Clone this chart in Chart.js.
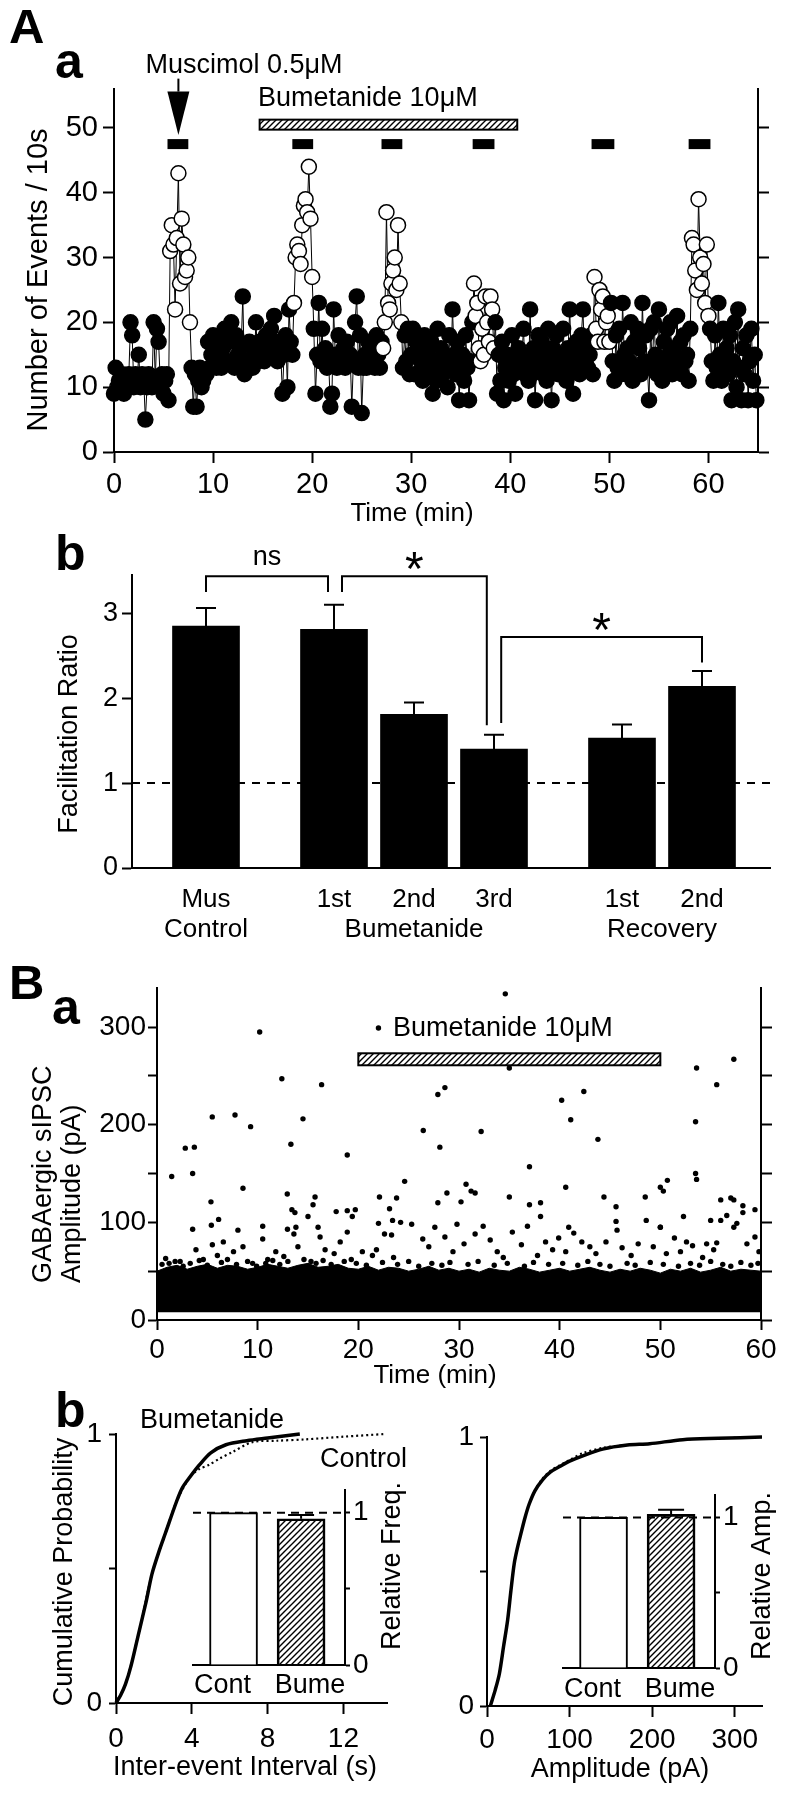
<!DOCTYPE html>
<html lang="en">
<head>
<meta charset="UTF-8">
<title>Muscimol facilitation and bumetanide</title>
<script src="https://cdn.jsdelivr.net/npm/chart.js"></script>
<style>
  body { margin: 0; background: #fff; }
  #page { position: relative; width: 786px; height: 1800px; overflow: hidden; font-family: 'Liberation Sans', Arial, sans-serif; }
  canvas { position: absolute; }
  .lbl { position: absolute; font-weight: bold; line-height: 1; color: #000; }
</style>
</head>
<body>
<div id="page">
  <div class="lbl" style="left:9px;top:2px;font-size:49px">A</div>
  <div class="lbl" style="left:55px;top:36px;font-size:50px">a</div>
  <div class="lbl" style="left:55px;top:528px;font-size:50px">b</div>
  <div class="lbl" style="left:9px;top:958px;font-size:49px">B</div>
  <div class="lbl" style="left:52px;top:982px;font-size:50px">a</div>
  <div class="lbl" style="left:55px;top:1385px;font-size:50px">b</div>

  <canvas id="aa" width="786" height="540" style="left:0;top:0"></canvas>
  <canvas id="ab" width="786" height="430" style="left:0;top:520px"></canvas>
  <canvas id="ba" width="786" height="430" style="left:0;top:965px"></canvas>
  <canvas id="bl" width="430" height="420" style="left:0;top:1380px"></canvas>
  <canvas id="br" width="396" height="420" style="left:390px;top:1380px"></canvas>
  <canvas id="il" width="270" height="240" style="left:150px;top:1470px"></canvas>
  <canvas id="ir" width="266" height="240" style="left:520px;top:1475px"></canvas>
</div>

<script>
// ---------------- A a : events per 10 s bin ----------------
const binMin = 1 / 6; // 10-s bins, one row per minute
const eventCounts = [
  9,13,10,11,10,12,  9,11,10,12,20,18,  10,12,11,15,10,12, 11,5,10,12,11,10,  20,11,19,17,11,12,
  9,11,12,8,31,35,   32,22,33,43,26,36, 32,27,28,30,20,13, 7,12,7,11,13,10,   11,12,12,17,13,15,
  18,14,13,17,15,13, 16,19,14,14,17,20, 14,13,18,15,14,16, 24,12,14,13,17,14, 13,15,20,14,17,15,
  16,14,18,15,15,19, 15,21,17,14,16,15, 9,15,18,10,22,17,  15,23,30,32,31,29, 35,38,39,37,44,36,
  27,19,9,15,23,14,  19,14,16,13,14,7,  9,22,15,13,18,14,  14,16,13,17,14,15, 7,14,20,24,13,18,
  6,13,15,13,17,14,  16,14,13,18,15,13, 17,16,20,37,23,22, 26,28,30,25,35,26, 20,13,18,14,19,12,
  15,19,12,17,12,16, 14,11,18,13,15,12, 17,9,14,11,19,13,  16,12,15,14,10,18, 13,22,15,12,17,8,
  14,15,11,18,13,8,  14,20,26,21,23,16, 14,19,15,24,20,17, 24,22,16,20,9,15,  11,17,8,13,15,11,
  14,18,12,9,14,16,  13,15,19,12,14,11, 22,12,16,8,14,18,  14,17,12,15,11,19, 13,8,16,14,18,12,
  15,12,19,14,11,16, 22,13,9,15,17,14,  12,18,22,14,16,13, 15,18,12,27,19,17, 25,22,24,17,20,21,
  17,23,14,11,18,13, 19,12,23,15,12,16, 14,20,11,17,13,19, 16,12,23,14,18,13, 8,19,13,20,15,12,
  22,14,11,17,13,19, 15,20,12,16,14,21, 13,17,12,18,14,15, 11,19,33,32,28,25, 39,30,26,29,23,32,
  21,19,14,11,18,13, 23,15,11,19,14,16, 12,18,8,14,20,10,  22,13,8,16,12,18,  8,14,19,11,15,8
];
// bins counted during the muscimol responses (open circles), minutes
const muscimolResponse = [[5.6, 7.7], [18.1, 20.05], [27.1, 29.05], [36.3, 38.4], [48.45, 50.05], [58.3, 60.05]];
// muscimol application periods (black bars) and bumetanide perfusion, minutes
const muscimolApplied = [[5.4, 7.5], [18.0, 20.1], [27.0, 29.1], [36.2, 38.4], [48.2, 50.5], [58.0, 60.2]];
const bumetanideA = [14.7, 40.7];

// ---------------- A b : facilitation ratio ----------------
const abLabels = ['Mus', '1st', '2nd', '3rd', '1st', '2nd'];
const abMeans = [2.85, 2.81, 1.81, 1.40, 1.53, 2.14];
const abSem = [0.21, 0.29, 0.14, 0.17, 0.16, 0.18];

// ---------------- B a : sIPSC amplitudes ----------------
const bandT = [0,1,2,3,4,5,6,7,8,9,10,11,12,13,14,15,16,17,18,19,20,21,22,23,24,25,26,27,28,29,30,
               31,32,33,34,35,36,37,38,39,40,41,42,43,44,45,46,47,48,49,50,51,52,53,54,55,56,57,58,59,60];
const bandTop = [50,54,56,52,55,57,53,56,55,52,54,57,55,53,56,58,54,55,57,53,52,55,51,54,53,50,52,55,51,53,50,
                 52,49,53,51,50,54,52,49,51,53,50,52,54,51,49,52,50,53,51,48,52,50,53,49,51,54,50,52,51,50];
const bandFloor = 8;
const baEvents = [
  [0.86,63],[1.46,147],[2.81,176],[3.71,177],[3.54,150],[3.54,93],[3.87,72],[5.36,121],[5.49,208],[5.4,97],
  [5.5,77],[6.12,103],[6.59,80],[7.75,210],[8.04,92],[8.54,135],[8.54,75],[9.3,198],[10.2,295],[10.5,96],
  [10.5,83],[12.4,247],[12.94,129],[13.3,180],[12.96,93],[13.4,113],[13.7,110],[13.8,95],[14.5,206],[15.0,106],
  [15.5,118],[15.7,126],[16.35,241],[16.0,95],[16.2,85],[17.8,111],[18.9,169],[18.9,112],[19.7,113],[19.4,106],
  [18.9,90],[22.0,299],[22.1,126],[23.8,125],[23.1,114],[23.4,102],[22.0,99],[26.45,194],[27.9,231],[28.6,238],
  [28.1,177],[24.6,142],[30.7,139],[31.2,132],[31.6,130],[28.8,130],[27.9,120],[30.2,121],[32.2,193],[34.6,334],
  [35.0,258],[35.0,126],[37.0,157],[37.0,118],[38.1,120],[38.1,106],[40.2,225],[41.1,205],[42.4,234],[43.8,185],
  [40.6,136],[44.4,126],[45.6,116],[40.9,95],[45.7,92],[48.5,126],[50.7,143],[50.0,136],[50.3,132],[50.0,95],
  [52.3,106],[53.6,258],[53.5,203],[53.6,144],[53.5,150],[55.6,241],[57.3,267],[55.0,102],[56.0,123],[57.0,125],
  [57.3,123],[58.2,117],[58.2,110],[59.4,113],[57.3,95],[56.0,102],[55.3,72],[23.3,87],
  [1.2,58],[2.3,60],[4.6,62],[6.0,66],[7.6,70],[9.5,58],[11.0,62],[11.8,70],[12.6,65],[13.6,88],
  [14.0,75],[15.3,60],[16.7,72],[17.6,68],[18.2,80],[19.3,62],[20.4,70],[21.4,66],[21.8,72],[22.6,88],
  [23.5,64],[24.2,100],[25.3,98],[26.4,83],[27.0,75],[27.6,95],[28.6,85],[29.4,70],[29.8,98],[30.5,78],
  [31.6,88],[32.4,96],[33.1,82],[33.8,70],[34.4,64],[35.3,90],[36.2,77],[36.8,96],[37.8,66],[38.6,80],
  [39.3,72],[39.9,84],[40.6,70],[41.4,89],[42.2,80],[43.0,75],[43.6,68],[44.6,80],[45.6,101],[46.2,74],
  [47.1,66],[47.8,78],[48.6,102],[49.3,75],[50.0,95],[50.6,68],[51.4,84],[52.0,70],[52.6,80],[53.2,76],
  [54.2,64],[54.6,78],[55.6,79],[56.6,107],[57.6,99],[58.6,78],[59.4,85],[59.8,70],
  [0.5,57],[1.8,60],[2.6,55],[3.3,58],[4.2,61],[5.0,56],[6.4,59],[7.0,62],[7.9,57],[9.0,60],
  [9.9,55],[10.8,58],[11.5,61],[12.2,57],[13.0,60],[14.6,62],[15.8,58],[16.5,61],[17.3,57],[18.6,60],
  [19.8,58],[20.8,56],[22.4,59],[23.9,57],[25.0,60],[26.0,55],[27.3,58],[28.3,56],[29.1,59],[30.9,57],
  [31.9,60],[33.5,56],[34.8,58],[36.5,55],[37.4,59],[38.9,57],[40.3,58],[41.8,56],[42.8,60],[44.0,57],
  [45.0,55],[46.7,58],[47.5,56],[49.0,59],[50.3,57],[51.8,55],[53.0,58],[53.9,56],[55.0,60],[56.2,57],
  [57.0,55],[58.0,59],[59.0,56],[59.7,58]
];
const bumetanideB = [20, 50];

// ---------------- B b : cumulative distributions ----------------
const ieiSec = [0, 0.25, 0.5, 0.8, 1.2, 1.6, 1.9, 2.3, 2.6, 3.2, 3.5, 3.9, 4.4, 5.0, 5.8, 6.9, 8.0, 9.7];
const ieiBume = [0, 0.03, 0.07, 0.14, 0.26, 0.38, 0.48, 0.57, 0.63, 0.75, 0.8, 0.84, 0.885, 0.93, 0.96, 0.975, 0.985, 1.0];
const ieiCtlSec = [0, 0.5, 1.2, 1.9, 2.6, 3.2, 3.9, 4.4, 4.9, 5.5, 6.15, 7.2, 8.5, 10, 12, 14.2];
const ieiCtl = [0, 0.07, 0.26, 0.48, 0.63, 0.75, 0.84, 0.87, 0.885, 0.91, 0.933, 0.97, 0.975, 0.98, 0.99, 1.0];
const ampPA = [4, 10, 15, 20, 25, 29, 33, 37, 41, 46, 51, 58, 67, 77, 88, 100, 116, 140, 170, 197, 237, 280, 333];
const ampBume = [0, 0.06, 0.12, 0.22, 0.32, 0.43, 0.53, 0.59, 0.64, 0.70, 0.75, 0.80, 0.84, 0.87, 0.89, 0.91, 0.93, 0.955, 0.97, 0.975, 0.99, 0.995, 1.0];
const ampCtl = [0, 0.06, 0.12, 0.22, 0.32, 0.43, 0.53, 0.59, 0.64, 0.70, 0.75, 0.80, 0.845, 0.875, 0.895, 0.915, 0.94, 0.96, 0.97, 0.975, 0.99, 0.995, 1.0];
const insetLabels = ['Cont', 'Bume'];
const relFreq = [1.0, 0.96];
const relFreqSem = [0, 0.025];
const relAmp = [1.0, 1.02];
const relAmpSem = [0, 0.03];

// ---------------- shared look ----------------
Chart.defaults.font.family = "'Liberation Sans', Arial, sans-serif";
Chart.defaults.color = '#000';
Chart.defaults.animation = false;
Chart.defaults.responsive = false;
Chart.defaults.events = [];
Chart.defaults.plugins.legend.display = false;
Chart.defaults.plugins.tooltip.enabled = false;

const FONT = "'Liberation Sans', Arial, sans-serif";
const border = { display: true, width: 2, color: '#000' };
const outTicks = len => ({ drawOnChartArea: false, drawTicks: true, tickLength: len, tickWidth: 2, tickColor: '#000', color: '#000' });
const fixW = w => s => { s.width = w; };
const fixH = h => s => { s.height = h; };

const hatch = (() => {
  const c = document.createElement('canvas');
  c.width = 6; c.height = 6;
  const g = c.getContext('2d');
  g.strokeStyle = '#000'; g.lineWidth = 1.4;
  g.beginPath();
  g.moveTo(0, 6); g.lineTo(6, 0);
  g.moveTo(-1, 1); g.lineTo(1, -1);
  g.moveTo(5, 7); g.lineTo(7, 5);
  g.stroke();
  return g.createPattern(c, 'repeat');
})();

function text(ctx, s, x, y, size, opt = {}) {
  ctx.save();
  ctx.font = (opt.bold ? 'bold ' : '') + size + 'px ' + FONT;
  ctx.fillStyle = '#000';
  ctx.textAlign = opt.align || 'center';
  ctx.textBaseline = 'alphabetic';
  ctx.translate(x, y);
  if (opt.rot) ctx.rotate(opt.rot);
  let dy = 0;
  if (opt.top) dy = ctx.measureText(s).actualBoundingBoxAscent;
  ctx.fillText(s, 0, dy);
  ctx.restore();
}

function hatchedBar(ctx, x0, x1, yc, h) {
  ctx.save();
  ctx.fillStyle = '#fff';
  ctx.fillRect(x0, yc - h / 2, x1 - x0, h);
  ctx.fillStyle = hatch;
  ctx.fillRect(x0, yc - h / 2, x1 - x0, h);
  ctx.strokeStyle = '#000'; ctx.lineWidth = 2;
  ctx.strokeRect(x0, yc - h / 2, x1 - x0, h);
  ctx.restore();
}

// ---------------- A a ----------------
const aaPoints = eventCounts.map((v, i) => ({ x: i * binMin, y: v }));
const isOpen = t => muscimolResponse.some(([a, b]) => t >= a && t <= b);

new Chart(document.getElementById('aa'), {
  type: 'line',
  data: { datasets: [{
    data: aaPoints,
    borderColor: '#000', borderWidth: 1, tension: 0,
    pointRadius: 7.5, pointBorderWidth: 1.5, pointBorderColor: '#000',
    pointBackgroundColor: c => isOpen(c.raw.x) ? '#fff' : '#000',
    clip: 10
  }] },
  options: {
    layout: { padding: { top: 89, left: 0, right: 0, bottom: 0 } },
    scales: {
      x: { type: 'linear', min: 0, max: 65,
           ticks: { stepSize: 10, includeBounds: false, font: { size: 29 }, padding: 5, maxRotation: 0 },
           grid: outTicks(11), border, afterFit: fixH(88) },
      y: { min: 0, max: 56, ticks: { stepSize: 10, includeBounds: false, font: { size: 29 }, padding: 5 },
           grid: outTicks(11), border, afterFit: fixW(114) },
      y2: { position: 'right', min: 0, max: 56, ticks: { stepSize: 10, includeBounds: false, display: false },
            grid: outTicks(11), border, afterFit: fixW(28) }
    }
  },
  plugins: [{
    id: 'aaMarks',
    afterDraw(chart) {
      const { ctx, scales: { x, y } } = chart;
      ctx.save();
      ctx.fillStyle = '#000';
      const yb = y.getPixelForValue(47.5);
      muscimolApplied.forEach(([a, b]) => {
        ctx.fillRect(x.getPixelForValue(a), yb - 5, x.getPixelForValue(b) - x.getPixelForValue(a), 10);
      });
      hatchedBar(ctx, x.getPixelForValue(bumetanideA[0]), x.getPixelForValue(bumetanideA[1]), y.getPixelForValue(50.5), 10);
      // muscimol arrow
      const ax = x.getPixelForValue(6.5);
      const yTop = y.getPixelForValue(57.6), yHead = y.getPixelForValue(55.6), yTip = y.getPixelForValue(48.9);
      ctx.strokeStyle = '#000'; ctx.lineWidth = 2;
      ctx.beginPath(); ctx.moveTo(ax, yTop); ctx.lineTo(ax, yHead); ctx.stroke();
      ctx.beginPath(); ctx.moveTo(ax - 11, yHead); ctx.lineTo(ax + 11, yHead); ctx.lineTo(ax, yTip); ctx.closePath(); ctx.fill();
      ctx.restore();
      text(ctx, 'Muscimol 0.5\u03BCM', 244, 73, 27);
      text(ctx, 'Bumetanide 10\u03BCM', 258, 106, 27, { align: 'left' });
      text(ctx, 'Time (min)', 412, 521, 26);
      text(ctx, 'Number of Events / 10s', 47, 280, 29, { rot: -Math.PI / 2 });
    }
  }]
});

// ---------------- A b ----------------
const abSlots = [0, 1.6, 2.6, 3.6, 5.2, 6.2];
const abBrackets = [
  { from: 0, to: 1.525, top: 3.435, footA: 3.25, footB: 3.25, mark: 'ns' },
  { from: 1.7, to: 3.51, top: 3.435, footA: 3.25, footB: 1.68, mark: '*' },
  { from: 3.69, to: 6.2, top: 2.72, footA: 1.706, footB: 2.42, mark: '*' }
];

new Chart(document.getElementById('ab'), {
  type: 'bar',
  data: { datasets: [{
    data: abMeans.map((m, i) => ({ x: abSlots[i], y: m })),
    backgroundColor: '#000', borderWidth: 0, barThickness: 67
  }] },
  options: {
    layout: { padding: { top: 55, left: 0, right: 16, bottom: 0 } },
    scales: {
      x: { type: 'linear', offset: false, min: -0.925, max: 7.05,
           afterBuildTicks: s => { s.ticks = abSlots.map(v => ({ value: v })); },
           ticks: { autoSkip: false, maxRotation: 0, font: { size: 26 }, padding: 16, callback: (v, i) => abLabels[i] },
           grid: { display: false, drawTicks: false, offset: false }, border, afterFit: fixH(82) },
      y: { min: 0, max: 3.45, ticks: { stepSize: 1, includeBounds: false, font: { size: 27 }, padding: 4 },
           grid: outTicks(10), border, afterFit: fixW(132) }
    }
  },
  plugins: [{
    id: 'abMarks',
    beforeDatasetsDraw(chart) {
      const { ctx, chartArea, scales: { y } } = chart;
      ctx.save();
      ctx.strokeStyle = '#000'; ctx.lineWidth = 2; ctx.setLineDash([8, 7]);
      const yy = y.getPixelForValue(1);
      ctx.beginPath(); ctx.moveTo(chartArea.left, yy); ctx.lineTo(chartArea.right, yy); ctx.stroke();
      ctx.restore();
    },
    afterDatasetsDraw(chart) {
      const { ctx, scales: { x, y } } = chart;
      ctx.save();
      ctx.strokeStyle = '#000'; ctx.lineWidth = 2;
      abMeans.forEach((m, i) => {
        const px = x.getPixelForValue(abSlots[i]);
        const top = y.getPixelForValue(m + abSem[i]);
        ctx.beginPath();
        ctx.moveTo(px, y.getPixelForValue(m)); ctx.lineTo(px, top);
        ctx.moveTo(px - 10, top); ctx.lineTo(px + 10, top);
        ctx.stroke();
      });
      abBrackets.forEach(b => {
        const x1 = x.getPixelForValue(b.from), x2 = x.getPixelForValue(b.to), yt = y.getPixelForValue(b.top);
        ctx.beginPath();
        ctx.moveTo(x1, y.getPixelForValue(b.footA)); ctx.lineTo(x1, yt);
        ctx.lineTo(x2, yt); ctx.lineTo(x2, y.getPixelForValue(b.footB));
        ctx.stroke();
        if (b.mark === 'ns') text(ctx, 'ns', (x1 + x2) / 2, yt - 11, 27);
        else text(ctx, '*', (x1 + x2) / 2, yt - 24, 48, { top: true });
      });
      ctx.restore();
      text(ctx, 'Control', x.getPixelForValue(abSlots[0]), 417, 26);
      text(ctx, 'Bumetanide', x.getPixelForValue(abSlots[2]), 417, 26);
      text(ctx, 'Recovery', (x.getPixelForValue(abSlots[4]) + x.getPixelForValue(abSlots[5])) / 2, 417, 26);
      text(ctx, 'Facilitation Ratio', 77, 214, 27, { rot: -Math.PI / 2 });
    }
  }]
});

// ---------------- B a ----------------
new Chart(document.getElementById('ba'), {
  type: 'line',
  data: { datasets: [
    { data: bandT.map(t => ({ x: t, y: bandFloor })), borderWidth: 0, pointRadius: 0, fill: false },
    { data: bandT.map((t, i) => ({ x: t, y: bandTop[i] })), borderColor: '#000', borderWidth: 1,
      backgroundColor: '#000', pointRadius: 0, fill: '-1', tension: 0 },
    { data: baEvents.map(([t, a]) => ({ x: t, y: a })), showLine: false, pointRadius: 2.7,
      pointBorderWidth: 0, pointBackgroundColor: '#000', clip: 4 }
  ] },
  options: {
    layout: { padding: { top: 23, left: 0, right: 0, bottom: 0 } },
    scales: {
      x: { type: 'linear', min: 0, max: 60,
           ticks: { stepSize: 10, includeBounds: false, font: { size: 28 }, padding: 3, maxRotation: 0 },
           grid: outTicks(10), border, afterFit: fixH(75) },
      y: { min: 0, max: 340, ticks: { stepSize: 50, includeBounds: false, font: { size: 28 }, padding: 2,
           callback: v => v % 100 === 0 ? v : '' },
           grid: outTicks(9), border, afterFit: fixW(157) },
      y2: { position: 'right', min: 0, max: 340, ticks: { stepSize: 50, includeBounds: false, display: false },
            grid: outTicks(11), border, afterFit: fixW(25) }
    }
  },
  plugins: [{
    id: 'baMarks',
    afterDraw(chart) {
      const { ctx, scales: { x, y } } = chart;
      hatchedBar(ctx, x.getPixelForValue(bumetanideB[0]), x.getPixelForValue(bumetanideB[1]), y.getPixelForValue(267), 12);
      text(ctx, 'Bumetanide 10\u03BCM', 393, 71, 27, { align: 'left' });
      text(ctx, 'Time (min)', 435, 418, 26);
      text(ctx, 'GABAergic sIPSC', 51, 318, 27, { rot: -Math.PI / 2, align: 'left' });
      text(ctx, 'Amplitude (pA)', 80, 318, 27, { rot: -Math.PI / 2, align: 'left' });
    }
  }]
});

// ---------------- B b : CDFs ----------------
const probTicks = s => { s.ticks = [0, 0.5, 1].map(v => ({ value: v })); };

new Chart(document.getElementById('bl'), {
  type: 'line',
  data: { datasets: [
    { data: ieiCtlSec.map((t, i) => ({ x: t, y: ieiCtl[i] })), borderColor: '#000', borderWidth: 2.2,
      borderDash: [2, 3], pointRadius: 0, tension: 0.3, clip: 6 },
    { data: ieiSec.map((t, i) => ({ x: t, y: ieiBume[i] })), borderColor: '#000', borderWidth: 3.5,
      pointRadius: 0, tension: 0.3, clip: 6 }
  ] },
  options: {
    layout: { padding: { top: 54, left: 0, right: 43, bottom: 0 } },
    scales: {
      x: { type: 'linear', min: 0, max: 14.3,
           ticks: { stepSize: 4, includeBounds: false, font: { size: 28 }, padding: 8, maxRotation: 0 },
           grid: outTicks(11), border, afterFit: fixH(97) },
      y: { min: 0, max: 1, afterBuildTicks: probTicks,
           ticks: { font: { size: 28 }, padding: 7, callback: v => v === 0.5 ? '' : v },
           grid: outTicks(7), border, afterFit: fixW(116) }
    }
  },
  plugins: [{
    id: 'blText',
    afterDraw(chart) {
      const { ctx } = chart;
      text(ctx, 'Bumetanide', 140, 48, 27, { align: 'left' });
      text(ctx, 'Control', 320, 87, 27, { align: 'left' });
      text(ctx, 'Inter-event Interval (s)', 245, 395, 27);
      text(ctx, 'Cumulative Probability', 72, 192, 27, { rot: -Math.PI / 2 });
    }
  }]
});

new Chart(document.getElementById('br'), {
  type: 'line',
  data: { datasets: [
    { data: ampPA.map((a, i) => ({ x: a, y: ampCtl[i] })), borderColor: '#000', borderWidth: 2,
      borderDash: [2, 3], pointRadius: 0, tension: 0.3, clip: 6 },
    { data: ampPA.map((a, i) => ({ x: a, y: ampBume[i] })), borderColor: '#000', borderWidth: 3.5,
      pointRadius: 0, tension: 0.3, clip: 6 }
  ] },
  options: {
    layout: { padding: { top: 57, left: 0, right: 24, bottom: 0 } },
    scales: {
      x: { type: 'linear', min: 0, max: 333,
           ticks: { stepSize: 100, includeBounds: false, font: { size: 28 }, padding: 6, maxRotation: 0 },
           grid: outTicks(11), border, afterFit: fixH(94) },
      y: { min: 0, max: 1, afterBuildTicks: probTicks,
           ticks: { font: { size: 28 }, padding: 6, callback: v => v === 0.5 ? '' : v },
           grid: outTicks(7), border, afterFit: fixW(97) }
    }
  },
  plugins: [{
    id: 'brText',
    afterDraw(chart) { text(chart.ctx, 'Amplitude (pA)', 230, 397, 27); }
  }]
});

// ---------------- B b : insets ----------------
const insetSlots = [0, 1];
const insetLabelShift = [-11, 9]; // labels sit a little wider apart than the bars
function inset(id, vals, sem, title, padTop, xH, yW, titleY, labelY) {
  new Chart(document.getElementById(id), {
    type: 'bar',
    data: { datasets: [{
      data: vals.map((v, i) => ({ x: insetSlots[i], y: v })),
      backgroundColor: ['#fff', hatch], borderColor: '#000', borderWidth: 2, barThickness: 48
    }] },
    options: {
      layout: { padding: { top: padTop, left: 43, right: 0, bottom: 0 } },
      scales: {
        x: { type: 'linear', offset: false, min: -0.6, max: 1.65,
             ticks: { display: false },
             grid: { display: false, drawTicks: false, offset: false }, border, afterFit: fixH(xH) },
        y: { position: 'right', min: 0, max: 1.15, afterBuildTicks: probTicks,
             ticks: { font: { size: 28 }, padding: 3, callback: v => v === 0.5 ? '' : v },
             grid: outTicks(5), border, afterFit: fixW(yW) }
      }
    },
    plugins: [{
      id: id + 'Marks',
      beforeDatasetsDraw(chart) {
        const { ctx, chartArea, scales: { y } } = chart;
        ctx.save();
        ctx.strokeStyle = '#000'; ctx.lineWidth = 2; ctx.setLineDash([8, 6]);
        const yy = y.getPixelForValue(1);
        ctx.beginPath(); ctx.moveTo(chartArea.left, yy); ctx.lineTo(chartArea.right, yy); ctx.stroke();
        ctx.restore();
      },
      afterDatasetsDraw(chart) {
        const { ctx, scales: { x, y } } = chart;
        ctx.save();
        ctx.strokeStyle = '#000'; ctx.lineWidth = 2;
        vals.forEach((v, i) => {
          if (!sem[i]) return;
          const px = x.getPixelForValue(insetSlots[i]), top = y.getPixelForValue(v + sem[i]);
          ctx.beginPath();
          ctx.moveTo(px, y.getPixelForValue(v)); ctx.lineTo(px, top);
          ctx.moveTo(px - 13, top); ctx.lineTo(px + 13, top);
          ctx.stroke();
        });
        ctx.restore();
        insetLabels.forEach((s, i) => text(ctx, s, x.getPixelForValue(insetSlots[i]) + insetLabelShift[i], labelY, 27));
        text(ctx, title, 250, titleY, 27, { rot: -Math.PI / 2, align: 'left' });
      }
    }]
  });
}
inset('il', relFreq, relFreqSem, 'Relative Freq.', 18, 45, 75, 180, 223);
inset('ir', relAmp, relAmpSem, 'Relative Amp.', 17, 47, 71, 185, 222);
</script>
</body>
</html>
